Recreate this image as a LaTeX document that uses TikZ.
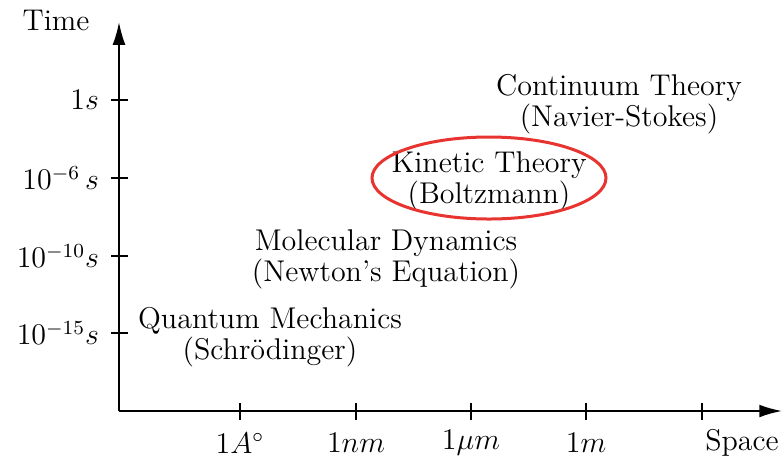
\documentclass[tikz,border=0pt]{standalone}
\usepackage{amsmath,amssymb}
\usepackage{xcolor}
\usetikzlibrary{positioning,arrows.meta,shapes.geometric}
\definecolor{ovalred}{RGB}{232,52,48}
\begin{document}
\begin{tikzpicture}[x=0.4pt,y=-0.4pt,font=\fontsize{12}{11.3}\selectfont,
		ax/.style={line width=0.75pt,-{Latex[length=3.2mm,width=1.8mm]}},
		tk/.style={line width=0.6pt},
		regime/.style={align=center,inner sep=1pt},
		lbl/.style={inner sep=1pt}]
	\useasboundingbox (0,0) rectangle (784,461);
	% axes
	\coordinate (o) at (119,411);
	\coordinate (ytop) at (119,22);
	\coordinate (xend) at (782,411);
	\draw[ax] (o)--(ytop);
	\draw[ax] (o)--(xend);
	\node[lbl] (time)  at (56,20)  {Time};
	\node[lbl] (space) at (742,443) {Space};
	% time ticks
	\foreach \yy/\txt/\nm in {100/{$1s$}/t0,178/{$10^{-6}\,s$}/t6,256/{$10^{-10}s$}/t10,333/{$10^{-15}s$}/t15}{
		\draw[tk] (111,\yy)--(128,\yy);
		\node[lbl,anchor=east] (\nm) at (102,\yy) {\txt};
	}
	% space ticks
	\foreach \xx/\txt/\nm in {240/{$1A^\circ$}/sA,356/{$1nm$}/snm,471/{$1\mu m$}/sum,586/{$1m$}/sm,702/{}/ss}{
		\draw[tk] (\xx,403)--(\xx,420);
		\node[lbl] (\nm) at (\xx,443) {\txt};
	}
	% regimes
	\node[regime] (cont) at (619,104) {Continuum Theory\\(Navier-Stokes)};
	\node[regime] (kin)  at (489,181) {Kinetic Theory\\(Boltzmann)};
	\node[regime] (md)   at (386,259) {Molecular Dynamics\\(Newton's Equation)};
	\node[regime] (qm)   at (270,337) {Quantum Mechanics\\(Schr\"odinger)};
	\draw[ovalred,line width=1.2pt] (489,178) ellipse [x radius=117,y radius=41];
\end{tikzpicture}
\end{document}
